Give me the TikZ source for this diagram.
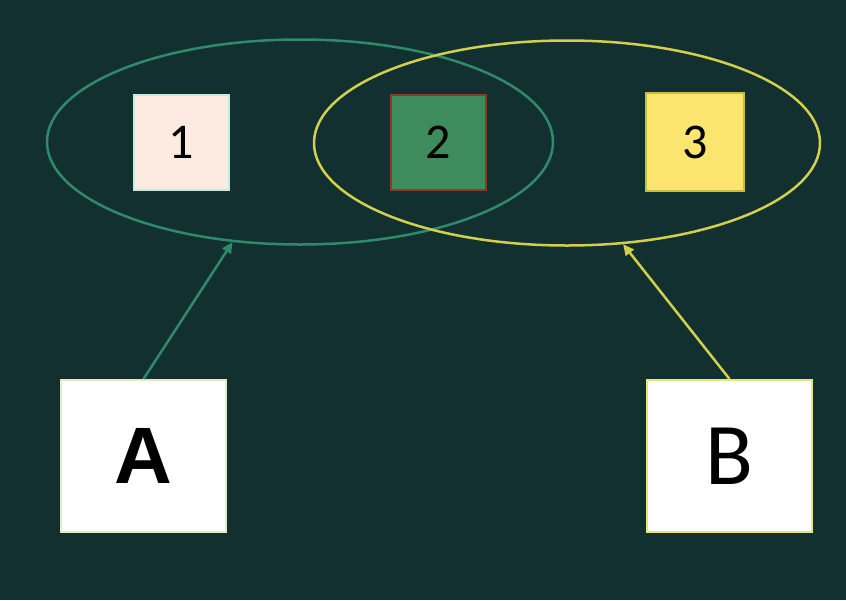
\documentclass[tikz,border=0pt]{standalone}
\usepackage{fontspec}
\setmainfont{Carlito}
\newfontfamily\arialfont{Liberation Sans}
\usetikzlibrary{shapes.geometric,arrows.meta}
\definecolor{bg}{HTML}{12302F}
\definecolor{grn}{HTML}{2F8A6C}
\definecolor{yel}{HTML}{D2CF4C}
\definecolor{pinkf}{HTML}{FDEBE1}
\definecolor{midg}{HTML}{3E8B5E}
\definecolor{brownb}{HTML}{8A3B28}
\definecolor{yelf}{HTML}{FBE56E}
\tikzset{
  setring/.style={draw, ellipse, line width=2.5pt, minimum width=506pt, minimum height=205pt, inner sep=0pt},
  elem/.style={draw, line width=2pt, minimum width=95pt, minimum height=95pt, inner sep=0pt, font=\fontsize{50}{50}\selectfont, text=black},
  bigbox/.style={draw, line width=2pt, fill=white, minimum width=165pt, minimum height=152pt, inner sep=0pt, text=black},
  link/.style={line width=2.5pt, -{Triangle[length=11pt,width=10pt]}}
}
\begin{document}
\begin{tikzpicture}[x=1pt,y=-1pt]
\fill[bg] (0,0) rectangle (846,600);
\useasboundingbox (0,0) rectangle (846,600);
\node[setring, grn] (e1) at (300,142) {};
\node[setring, yel] (e2) at (567,143) {};
\node[elem, draw={rgb,255:red,200;green,235;blue,225}, fill=pinkf] (n1) at (181.5,142) {1};
\node[elem, draw=brownb, fill=midg] (n2) at (438,142) {2};
\node[elem, draw={rgb,255:red,200;green,190;blue,60}, fill=yelf, minimum width=98pt, minimum height=98pt] (n3) at (695,142) {3};
\node[bigbox, draw={rgb,255:red,225;green,235;blue,200}] (A) at (143.5,456) {\arialfont\bfseries\fontsize{80}{80}\selectfont A};
\node[bigbox, draw={rgb,255:red,235;green,230;blue,120}] (B) at (729.5,456) {\fontsize{88}{88}\selectfont B};
\draw[link, grn] (A.north) -- (e1.236);
\draw[link, yel] (B.north) -- (e2.299);
\end{tikzpicture}
\end{document}
